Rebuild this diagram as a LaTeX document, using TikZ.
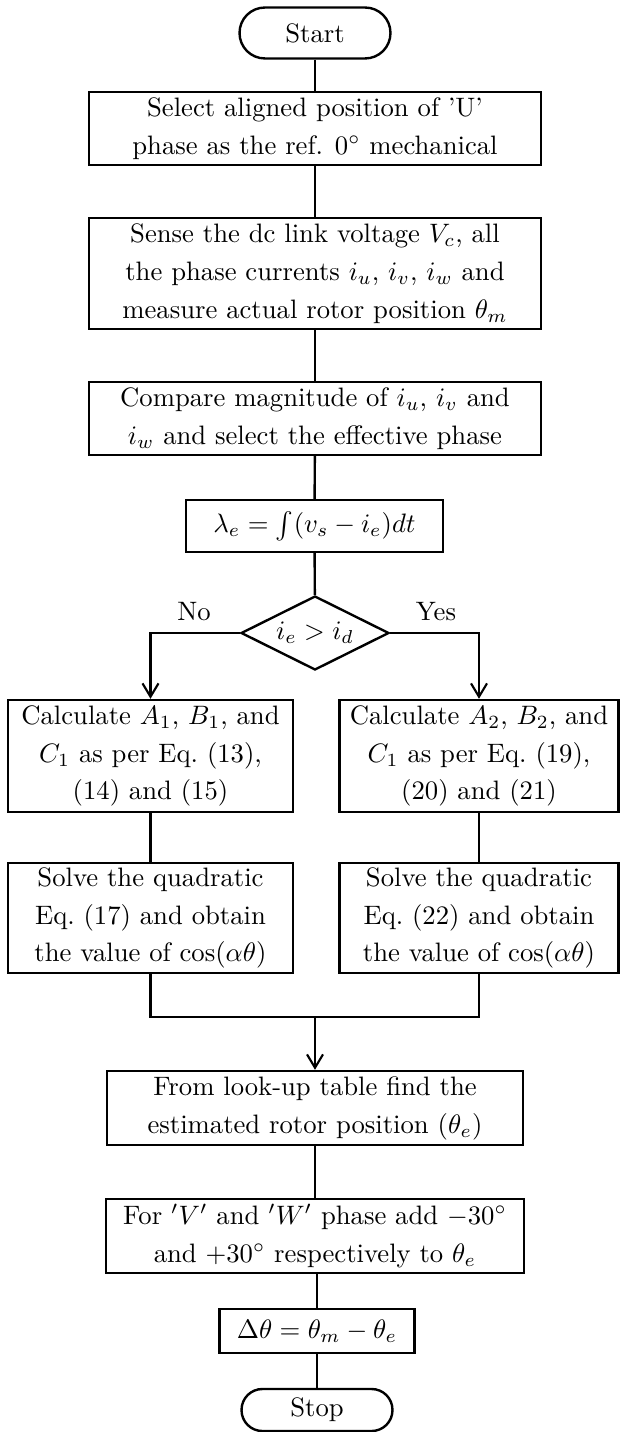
\documentclass[tikz,border=0pt]{standalone}
\usetikzlibrary{shapes.geometric,arrows.meta}
\begin{document}
\begin{tikzpicture}[x=0.375pt,y=-0.375pt,
  every node/.style={font=\fontsize{10}{14.2}\selectfont},
  box/.style={draw,line width=0.9pt,rectangle,inner sep=0pt,align=center},
  term/.style={draw,line width=0.9pt,rectangle,inner sep=0pt,align=center,rounded corners=9.5pt},
  dec/.style={draw,line width=0.9pt,diamond,aspect=2,inner sep=0pt},
  line/.style={line width=0.9pt},
  arr/.style={line width=0.9pt,-{Straight Barb[length=5pt,width=6pt,line width=0.8pt]}},
  lbl/.style={inner sep=0pt}]
\useasboundingbox (0,0) rectangle (620,1432);

\node[term,minimum width=56.6pt,minimum height=19.1pt] (start) at (315,33) {Start};
\node[box,minimum width=169.5pt,minimum height=27.4pt] (b1) at (315,128.5)
  {Select aligned position of 'U'\\ phase as the ref. $0^\circ$ mechanical};
\node[box,minimum width=169.5pt,minimum height=41.6pt] (b2) at (315,273.5)
  {Sense the dc link voltage $V_c$, all\\ the phase currents $i_u$, $i_v$, $i_w$ and\\ measure actual rotor position $\theta_m$};
\node[box,minimum width=169.5pt,minimum height=27.4pt] (b3) at (315,418.5)
  {Compare magnitude of $i_u$, $i_v$ and\\ $i_w$ and select the effective phase};
\node[box,minimum width=96.4pt,minimum height=19.5pt] (b4) at (314.5,526)
  {$\lambda_e = \int (v_s - i_e)dt$};
\node[dec,minimum width=55.5pt,minimum height=27.75pt] (dia) at (315,633) {$i_e > i_d$};
\node[lbl] (no) at (194,612) {No};
\node[lbl] (yes) at (436,612) {Yes};

\node[box,minimum width=106.9pt,minimum height=42pt] (b5l) at (150.5,756)
  {Calculate $A_1$, $B_1$, and\\ $C_1$ as per Eq.~(13),\\ (14) and (15)};
\node[box,minimum width=104.6pt,minimum height=42pt] (b5r) at (479,756)
  {Calculate $A_2$, $B_2$, and\\ $C_1$ as per Eq.~(19),\\ (20) and (21)};
\node[box,minimum width=106.9pt,minimum height=41.25pt] (b6l) at (150.5,918)
  {Solve the quadratic\\ Eq.~(17) and obtain\\ the value of $\cos(\alpha\theta)$};
\node[box,minimum width=104.6pt,minimum height=41.25pt] (b6r) at (479,918)
  {Solve the quadratic\\ Eq.~(22) and obtain\\ the value of $\cos(\alpha\theta)$};
\coordinate (j) at (315,1017);

\node[box,minimum width=156pt,minimum height=27.75pt] (b7) at (315,1108)
  {From look-up table find the\\ estimated rotor position ($\theta_e$)};
\node[box,minimum width=156.75pt,minimum height=27.75pt] (b8) at (315,1236)
  {For $'V'$ and $'W'$ phase add $-30^\circ$\\ and $+30^\circ$ respectively to $\theta_e$};
\node[box,minimum width=73.1pt,minimum height=16.5pt] (b9) at (317,1331)
  {$\Delta\theta = \theta_m - \theta_e$};
\node[term,minimum width=56.6pt,minimum height=15.75pt,rounded corners=7.8pt] (stop) at (317,1410) {Stop};

\draw[line] (start) -- (b1);
\draw[line] (b1) -- (b2);
\draw[line] (b2) -- (b3);
\draw[line] (b3) -- (b4);
\draw[line] (b4) -- (dia);
\draw[arr] (dia.west) -| (b5l.north);
\draw[arr] (dia.east) -| (b5r.north);
\draw[line] (b5l) -- (b6l);
\draw[line] (b5r) -- (b6r);
\draw[line] (b6l.south) |- (j) -| (b6r.south);
\draw[arr] (j) -- (b7.north);
\draw[line] (b7) -- (b8);
\draw[line] (b8.south -| b9.north) -- (b9.north);
\draw[line] (b9) -- (stop);
\end{tikzpicture}
\end{document}
